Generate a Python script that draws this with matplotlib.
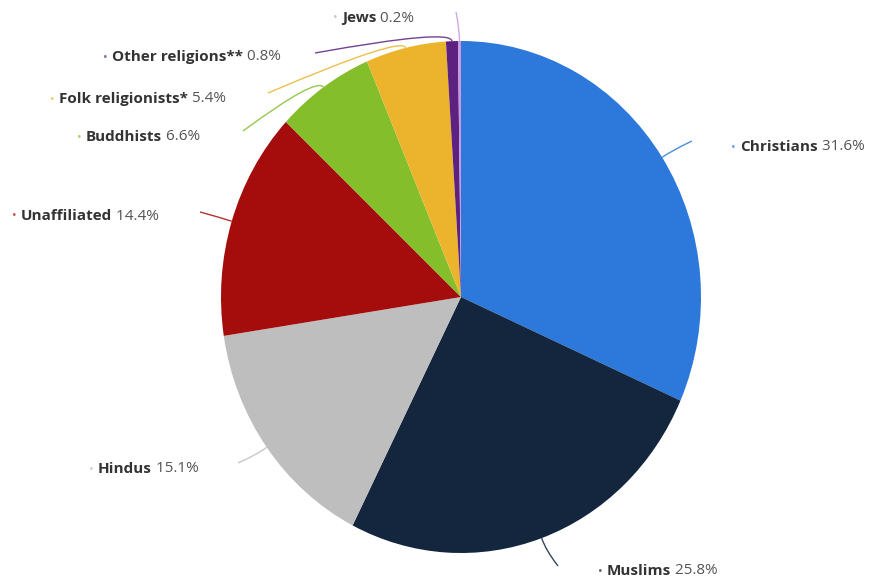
"""World population by religion - pie chart with leader-line labels"""
import numpy as np
import matplotlib
matplotlib.use('Agg')
from matplotlib import pyplot as plt
from matplotlib.path import Path
from matplotlib.patches import PathPatch

# Data
religions = ['Christians', 'Muslims', 'Hindus', 'Unaffiliated', 'Buddhists',
             'Folk religionists*', 'Other religions**', 'Jews']
shares = [31.6, 25.8, 15.1, 14.4, 6.6, 5.4, 0.8, 0.2]
colors = ['#2c78db', '#13263d', '#bebebe', '#a50d0d', '#84bf2b',
          '#ecb42c', '#5d2180', '#c898e0']

# Layout (pixels, from top-left of a 870x580 canvas)
W, H = 870, 580
CX, CY = 461, 297
RX, RY = 240, 256
label_pos = [(731, 147), (598, 571), (89, 469), (12, 216),
             (77, 137), (50, 99), (103, 57), (333, 18)]
line_end = [(692, 141), (558, 566), (238, 463), (200, 212),
            (243, 131), (268, 93), (315, 53), (456, 12)]


def to_data(px, py):
    return (px - CX) / RX, (CY - py) / RY


fig = plt.figure(figsize=(W / 100, H / 100), dpi=100)
ax = fig.add_axes([0, 0, 1, 1])
ax.pie(shares, colors=colors, startangle=90, counterclock=False,
       radius=1, wedgeprops=dict(linewidth=0))
ax.set_aspect('auto')
ax.set_xlim(-CX / RX, (W - CX) / RX)
ax.set_ylim((CY - H) / RY, CY / RY)
ax.axis('off')

total = sum(shares)
cum = np.cumsum([0] + shares)
for i, name in enumerate(religions):
    mid = (cum[i] + cum[i + 1]) / 2
    theta = np.deg2rad(90 - 360 * mid / total)
    start = (np.cos(theta), np.sin(theta))
    ctrl = (1.05 * np.cos(theta), 1.05 * np.sin(theta))
    end = to_data(*line_end[i])
    path = Path([start, ctrl, end], [Path.MOVETO, Path.CURVE3, Path.CURVE3])
    ax.add_patch(PathPatch(path, fill=False, edgecolor=colors[i], lw=1.0,
                           alpha=0.85, clip_on=False))

    bx, by = to_data(*label_pos[i])
    ax.text(bx, by, '\u2022', color=colors[i], fontsize=9, va='center',
            ha='left', family='Open Sans', alpha=0.7)
    nx, _ = to_data(label_pos[i][0] + 9, label_pos[i][1])
    t = ax.text(nx, by, name, color='#333333', fontsize=11,
                fontweight='bold', va='center', ha='left', family='Open Sans')
    ax.annotate(' %.1f%%' % shares[i], xy=(1, 0.5), xycoords=t,
                va='center', ha='left', color='#555555', fontsize=11,
                family='Open Sans')

fig.savefig('out.png', dpi=100)
